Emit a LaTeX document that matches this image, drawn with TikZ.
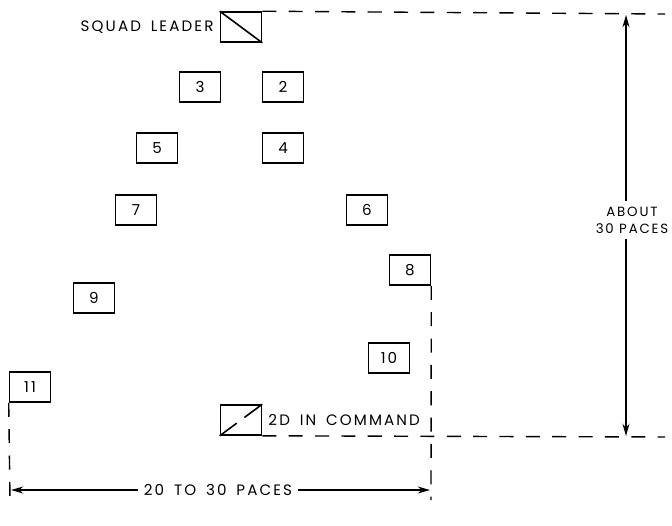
\documentclass[tikz,border=0pt]{standalone}
\usepackage{fontspec}
\newfontfamily\lbl{Poppins}[LetterSpace=14,WordSpace=1.6]
\newfontfamily\lbltight{Poppins}[LetterSpace=13.5]
\usetikzlibrary{arrows.meta,positioning,calc}

\begin{document}
\begin{tikzpicture}[x=0.02cm,y=-0.02cm,font=\lbl\fontsize{8.6}{10.5}\selectfont,
  >={Stealth[length=7pt,width=4pt]},
  man/.style={draw,line width=0.9pt,minimum width=0.82cm,minimum height=0.6cm,inner sep=0pt},
  pace/.style={dash pattern=on 8pt off 7pt,line width=0.8pt},
  dim/.style={line width=0.7pt}]
\useasboundingbox (0,0) rectangle (672,525);
% leaders
\node[man] (sl) at (241,27) {};
\draw[line width=0.9pt] (sl.north west) -- (sl.south east);
\node[left=0pt of sl] (sllbl) {SQUAD LEADER};
\node[man] (ic) at (241,420) {};
\draw[line width=0.9pt] (ic.south west) -- ($(ic.south west)!0.4!(ic.north east)$);
\draw[line width=0.9pt] ($(ic.south west)!0.58!(ic.north east)$) -- (ic.north east);
\node[right=0pt of ic] (iclbl) {2D IN COMMAND};
% men
\node[man] (n2) at (283,87) {2};
\node[man] (n3) at (200,87) {3};
\node[man] (n4) at (283,148) {4};
\node[man] (n5) at (157,148) {5};
\node[man] (n6) at (367,210) {6};
\node[man] (n7) at (136,210) {7};
\node[man] (n8) at (410,270) {8};
\node[man] (n9) at (94,298) {9};
\node[man] (n10) at (389,358) {10};
\node[man] (n11) at (30,387) {11};
% extent lines
\coordinate (topR) at (665,14);
\coordinate (botR) at (665,437);
\coordinate (gR) at (431,500);
\coordinate (gL) at (10,500);
\draw[pace] (sl.north east) -- (topR);
\draw[pace] (ic.south east) -- (botR);
\draw[pace] (n8.south east) -- (gR);
\draw[pace] (n11.south west) -- (gL);
% depth
\coordinate (dTop) at (626,15);
\coordinate (dBot) at (626,436);
\node[align=center,font=\lbltight\fontsize{7.6}{9.5}\selectfont] (depth) at (632,220) {ABOUT\\30 PACES};
\draw[dim,->] (depth.north -| dTop) -- (dTop);
\draw[dim,->] (depth.south -| dBot) -- (dBot);
% width
\coordinate (wL) at (11,490);
\coordinate (wR) at (430,490);
\node (wide) at (218,490) {20 TO 30 PACES};
\draw[dim,->] (wide) -- (wL);
\draw[dim,->] (wide) -- (wR);
\end{tikzpicture}
\end{document}
